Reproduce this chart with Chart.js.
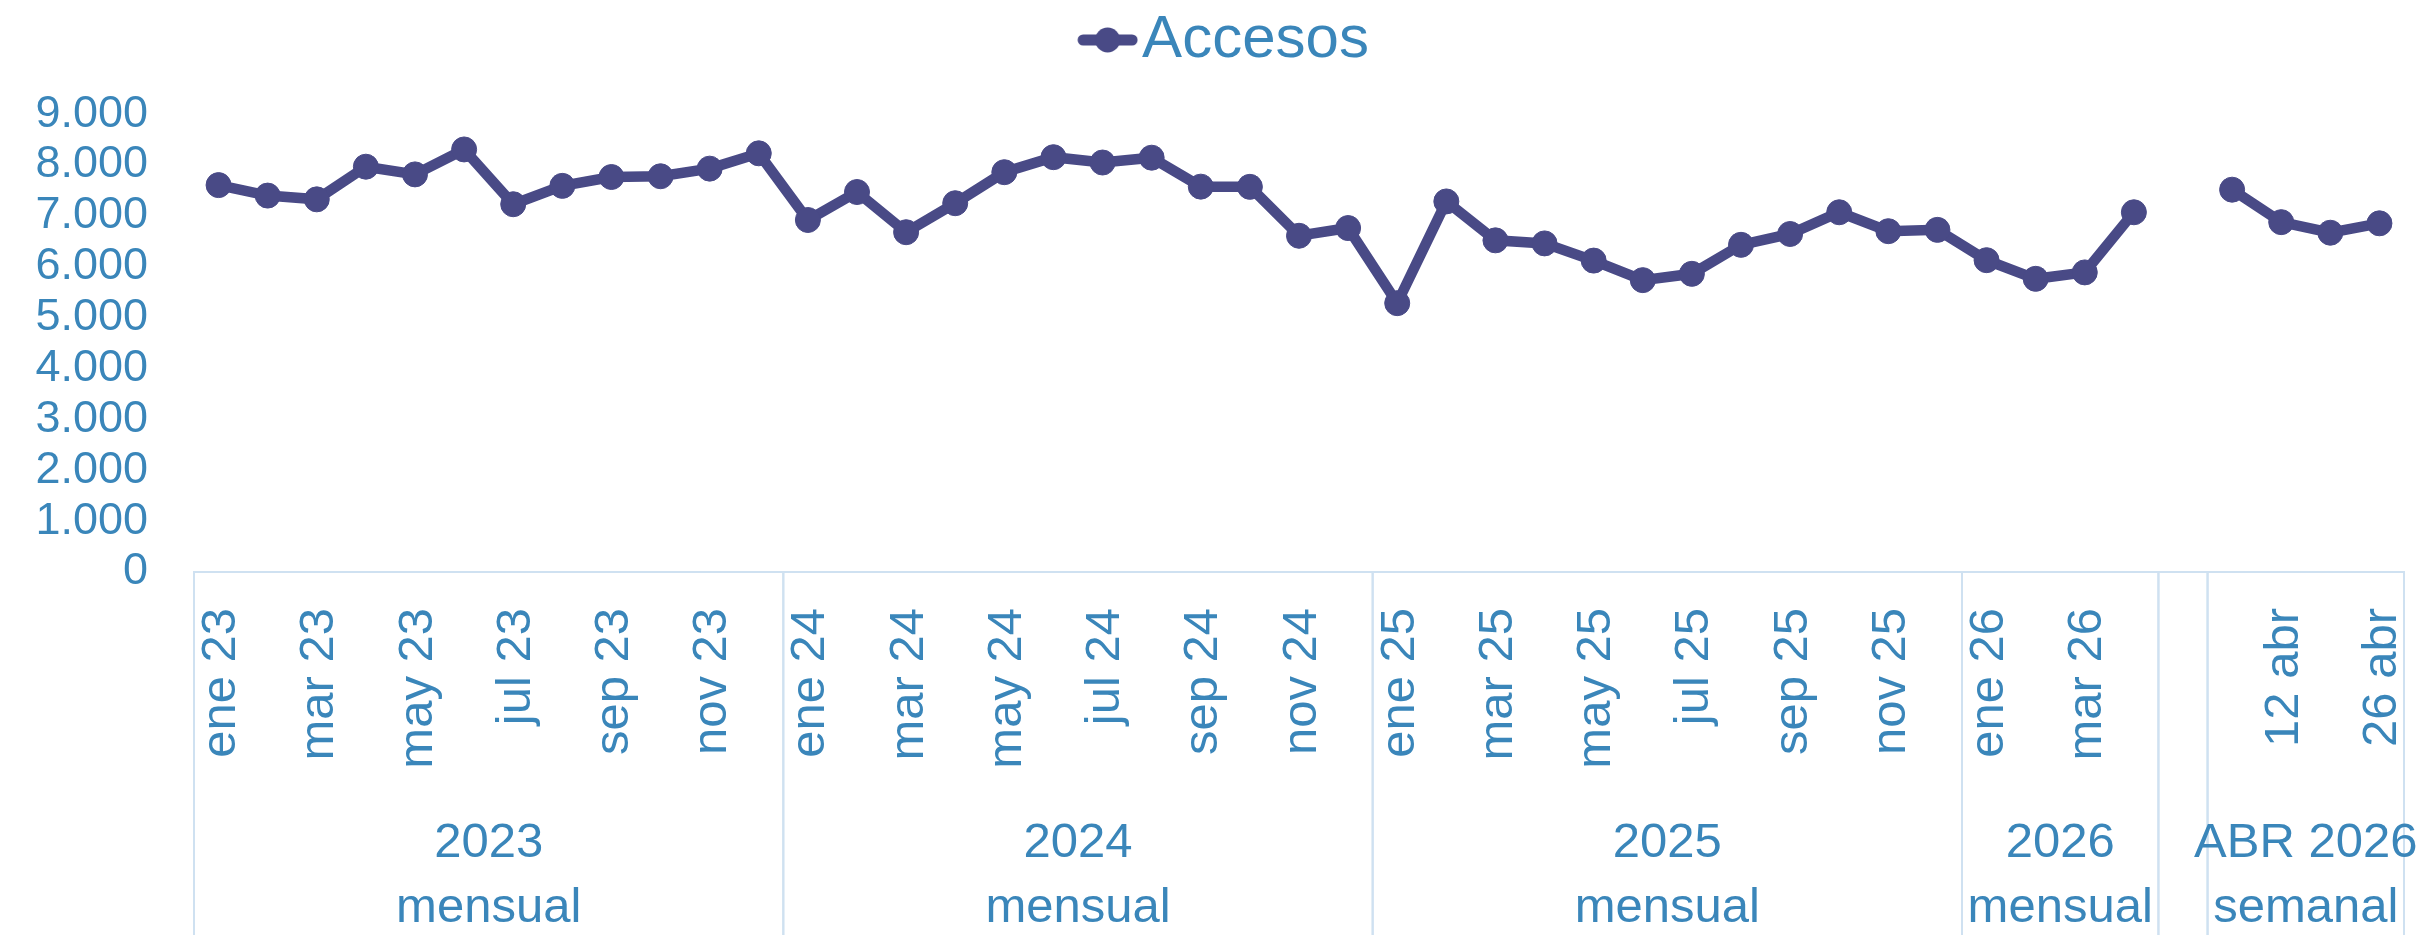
<!DOCTYPE html>
<html lang="es">
<head>
<meta charset="UTF-8">
<title>Accesos</title>
<script src="https://cdn.jsdelivr.net/npm/chart.js"></script>
<style>
  html, body { margin: 0; padding: 0; background: #ffffff; }
  canvas { display: block; }
</style>
</head>
<body>
<canvas id="accesosChart" width="2418" height="935"></canvas>
<script>
  // categories, in order: 3 full years monthly, 2026 monthly, a blank slot, then April 2026 weekly
  const categories = [
    'ene 23', 'feb 23', 'mar 23', 'abr 23', 'may 23', 'jun 23', 'jul 23', 'ago 23', 'sep 23', 'oct 23', 'nov 23', 'dic 23',
    'ene 24', 'feb 24', 'mar 24', 'abr 24', 'may 24', 'jun 24', 'jul 24', 'ago 24', 'sep 24', 'oct 24', 'nov 24', 'dic 24',
    'ene 25', 'feb 25', 'mar 25', 'abr 25', 'may 25', 'jun 25', 'jul 25', 'ago 25', 'sep 25', 'oct 25', 'nov 25', 'dic 25',
    'ene 26', 'feb 26', 'mar 26', 'abr 26',
    '',
    '5 abr', '12 abr', '19 abr', '26 abr'
  ];
  const accesos = [
    7606, 7400, 7326, 7968, 7817, 8307, 7230, 7591, 7765, 7780, 7930, 8231,
    6920, 7470, 6680, 7250, 7860, 8155, 8050, 8145, 7576, 7572, 6610, 6762,
    5285, 7285, 6520, 6460, 6122, 5738, 5862, 6432, 6645, 7072, 6700, 6726,
    6130, 5764, 5890, 7072,
    null,
    7516, 6878, 6670, 6855
  ];
  // second and third rows of the category axis
  const groupNames = ['2023', '2024', '2025', '2026', '', 'ABR 2026'];
  const groupTypes = ['mensual', 'mensual', 'mensual', 'mensual', '', 'semanal'];
  const groupSizes = [12, 12, 12, 4, 1, 4];
  const yMin = 0, yMax = 9000, yStep = 1000;

  const LINE = '#494a86';
  const TEXT = '#3a86ba';
  const GRID = '#cfe1f1';
  const FONT = '"Liberation Sans", Arial, sans-serif';

  // legend symbol: a short line with a marker, like the spreadsheet legend
  function legendSymbol() {
    const c = document.createElement('canvas');
    c.width = 129;
    c.height = 30;
    const g = c.getContext('2d');
    g.strokeStyle = LINE;
    g.lineWidth = 11;
    g.lineCap = 'round';
    g.beginPath();
    g.moveTo(74, 15);
    g.lineTo(123, 15);
    g.stroke();
    g.fillStyle = LINE;
    g.beginPath();
    g.arc(98.5, 15, 12.5, 0, Math.PI * 2);
    g.fill();
    return c;
  }
  const symbol = legendSymbol();

  function thousands(v) {
    return String(v).replace(/\B(?=(\d{3})+(?!\d))/g, '.');
  }

  // draws the group separators and the year / frequency rows under the month labels
  const groupAxis = {
    id: 'groupAxis',
    afterDraw(chart) {
      const xs = chart.scales.x;
      const ctx = chart.ctx;
      const half = (xs.getPixelForValue(1) - xs.getPixelForValue(0)) / 2;
      ctx.save();
      ctx.strokeStyle = GRID;
      ctx.lineWidth = 2;
      let start = 0;
      const spans = [];
      groupSizes.forEach((n) => {
        const left = xs.getPixelForValue(start) - half;
        const right = xs.getPixelForValue(start + n - 1) + half;
        [left, right].forEach(px => {
          ctx.beginPath();
          ctx.moveTo(px, xs.top);
          ctx.lineTo(px, chart.height);
          ctx.stroke();
        });
        spans.push((left + right) / 2);
        start += n;
      });
      ctx.fillStyle = TEXT;
      ctx.font = '49px ' + FONT;
      ctx.textAlign = 'center';
      ctx.textBaseline = 'alphabetic';
      spans.forEach((cx, i) => {
        ctx.fillText(groupNames[i], cx, xs.top + 285);
        ctx.fillText(groupTypes[i], cx, xs.top + 350);
      });
      ctx.restore();
    }
  };

  const ctx = document.getElementById('accesosChart').getContext('2d');
  new Chart(ctx, {
    type: 'line',
    data: {
      labels: categories,
      datasets: [{
        label: 'Accesos',
        data: accesos,
        borderColor: LINE,
        backgroundColor: LINE,
        borderWidth: 10.5,
        pointRadius: 12.5,
        pointBorderWidth: 1,
        pointBackgroundColor: LINE,
        pointBorderColor: LINE,
        tension: 0,
        spanGaps: false
      }]
    },
    options: {
      responsive: false,
      devicePixelRatio: 1,
      animation: false,
      layout: { padding: { top: 0, left: 0, right: 14, bottom: 0 } },
      plugins: {
        tooltip: { enabled: false },
        legend: {
          position: 'top',
          labels: {
            color: TEXT,
            font: { family: FONT, size: 60 },
            padding: 10,
            usePointStyle: true,
            pointStyleWidth: 77,
            generateLabels: (chart) =>
              Chart.defaults.plugins.legend.labels.generateLabels(chart)
                .map(l => Object.assign(l, { pointStyle: symbol }))
          }
        },
        // empty title used only as a spacer between the legend and the plot
        title: {
          display: true,
          text: '',
          position: 'top',
          weight: 500,
          font: { size: 1 },
          padding: { top: 0, bottom: 33 }
        }
      },
      scales: {
        x: {
          offset: true,
          grid: { display: false, drawTicks: false, offset: true },
          border: { display: true, color: GRID, width: 2 },
          ticks: {
            color: TEXT,
            font: { family: FONT, size: 49 },
            autoSkip: false,
            minRotation: 90,
            maxRotation: 90,
            padding: 36,
            labelOffset: 3,
            callback: (value, index) => index % 2 === 0 ? categories[index] : ''
          },
          afterFit: (s) => {
            s.height = 363;
            s.paddingLeft = 0;
            s.paddingRight = 0;
          }
        },
        y: {
          min: yMin,
          max: yMax,
          grid: { display: false, drawTicks: false },
          border: { display: false },
          ticks: {
            stepSize: yStep,
            autoSkip: false,
            color: TEXT,
            font: { family: FONT, size: 45 },
            padding: 46,
            callback: (v) => thousands(v)
          },
          afterFit: (s) => {
            s.width = 194;
            s.paddingBottom = 0;
          }
        }
      }
    },
    plugins: [groupAxis]
  });
</script>
</body>
</html>
